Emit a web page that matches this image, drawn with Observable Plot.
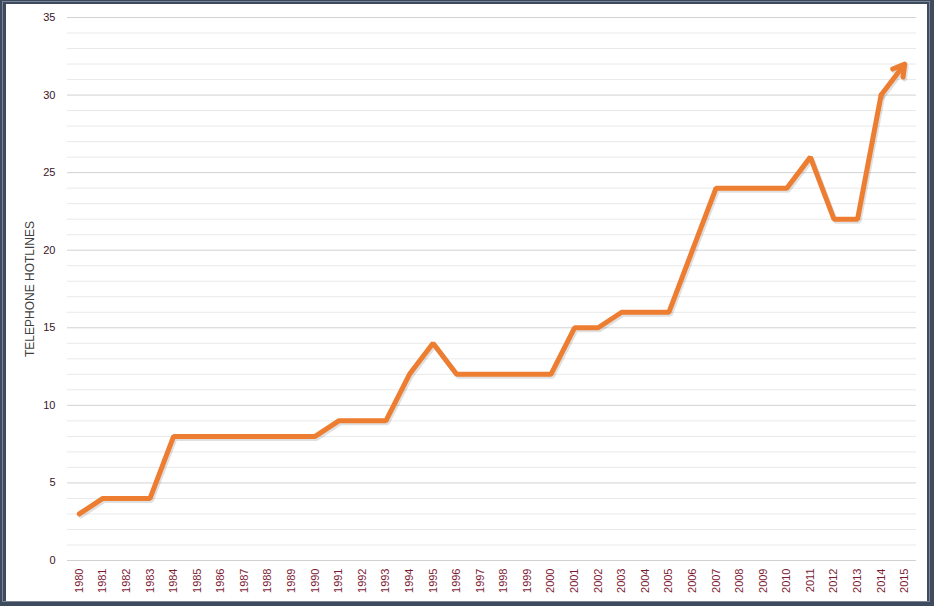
<!DOCTYPE html>
<html>
<head>
<meta charset="utf-8">
<script src="https://cdn.jsdelivr.net/npm/d3@7"></script>
<script src="https://cdn.jsdelivr.net/npm/@observablehq/plot@0.6"></script>
<style>
  html, body { margin: 0; padding: 0; }
  body { width: 934px; height: 606px; overflow: hidden; background: #3e4a5d; position: relative; font-family: Arial, "Liberation Sans", sans-serif; }
  #line2 { position: absolute; left: 2px; top: 1px; width: 928px; height: 601px; border: 1px solid #7a8596; box-sizing: border-box; }
  #panel { position: absolute; left: 6px; top: 4px; width: 921px; height: 597px; background: #fff; }
  #chart { position: absolute; left: 0; top: 0; }
</style>
</head>
<body>
<div id="line2"></div>
<div id="panel"></div>
<div id="chart"></div>
<script>
const years = [1980,1981,1982,1983,1984,1985,1986,1987,1988,1989,1990,1991,1992,1993,1994,1995,1996,1997,1998,1999,2000,2001,2002,2003,2004,2005,2006,2007,2008,2009,2010,2011,2012,2013,2014,2015];
const hotlines = [3,4,4,4,8,8,8,8,8,8,8,9,9,9,12,14,12,12,12,12,12,15,15,16,16,16,20,24,24,24,24,26,22,22,30,32];
const yTicks = [0,5,10,15,20,25,30,35];
const yMinor = d3.range(0, 36, 1);
const yLabel = "TELEPHONE HOTLINES";

const data = years.map((y, i) => ({year: y, value: hotlines[i]}));
const body = data.slice(0, data.length - 1);
const last = [{x1: years[years.length - 2], y1: hotlines[hotlines.length - 2], x2: years[years.length - 1], y2: hotlines[hotlines.length - 1]}];

const chart = Plot.plot({
  width: 934,
  height: 606,
  marginLeft: 67,
  marginRight: 18,
  marginTop: 17,
  marginBottom: 46,
  style: {background: "transparent", fontFamily: "Arial, 'Liberation Sans', sans-serif", overflow: "visible"},
  x: {type: "linear", domain: [1979.5, 2015.5]},
  y: {domain: [0, 35]},
  marks: [
    Plot.ruleY(yMinor.filter(d => d % 5 !== 0), {stroke: "#e9e9e9", strokeWidth: 1}),
    Plot.ruleY(yTicks, {stroke: "#d2d2d2", strokeWidth: 1}),
    Plot.axisY({ticks: yTicks, tickSize: 0, tickPadding: 12, label: null, fontSize: 11, fill: "#3b1428"}),
    Plot.axisX({ticks: years, tickFormat: d => String(d), tickSize: 0, tickPadding: 8, tickRotate: -90, label: null, fontSize: 11, fill: "#7b1b33"}),
    Plot.text([yLabel], {frameAnchor: "left", dx: -37, rotate: -90, textAnchor: "middle", text: d => d, fontSize: 12, fill: "#404040"}),
    // shadow
    Plot.line(body, {x: "year", y: "value", stroke: "#000", strokeOpacity: 0.12, strokeWidth: 5, dx: 1.5, dy: 2, strokeLinejoin: "miter"}),
    Plot.arrow(last, {x1: "x1", y1: "y1", x2: "x2", y2: "y2", stroke: "#000", strokeOpacity: 0.12, strokeWidth: 5, headLength: 7, dx: 1.5, dy: 2}),
    Plot.line(body, {x: "year", y: "value", stroke: "#ed7d31", strokeWidth: 5, strokeLinejoin: "miter"}),
    Plot.arrow(last, {x1: "x1", y1: "y1", x2: "x2", y2: "y2", stroke: "#ed7d31", strokeWidth: 5, headLength: 7, strokeLinejoin: "miter"})
  ]
});
document.getElementById("chart").appendChild(chart);
</script>
</body>
</html>
